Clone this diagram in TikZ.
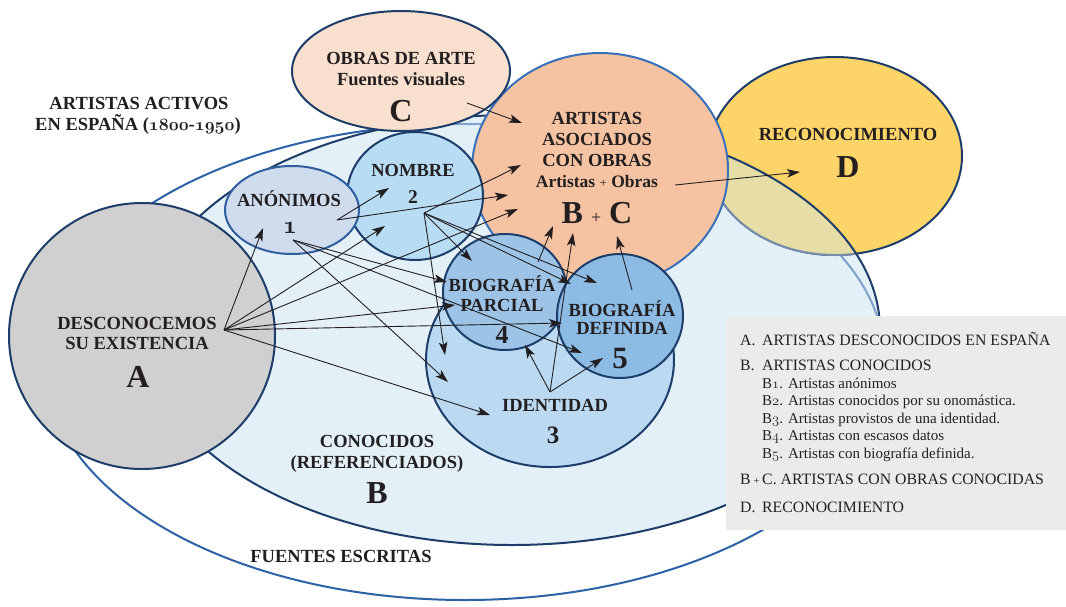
\documentclass[tikz,border=0pt]{standalone}
\usepackage{fontspec}
\setmainfont{Liberation Serif}
\usetikzlibrary{arrows.meta}

% old-style figures taken from the Computer/Latin Modern math italic fonts
\newcommand\osnb[1]{{\usefont{OML}{cmm}{b}{it}#1}}
\newcommand\osnm[1]{{\usefont{OML}{lmm}{m}{it}#1}}

\definecolor{navy}{HTML}{1D3D6B}
\definecolor{midblue}{HTML}{2E62A6}
\definecolor{bcblue}{HTML}{3A70B9}
\definecolor{oneblue}{HTML}{2F5F9F}
\definecolor{fillB}{HTML}{E3F0F8}
\definecolor{fillA}{HTML}{D0D0D0}
\definecolor{fillC}{HTML}{F9DFCD}
\definecolor{fillBC}{HTML}{F5C3A1}
\definecolor{fillD}{HTML}{FDD468}
\definecolor{fillBD}{HTML}{E6DEA6}
\definecolor{fillOne}{HTML}{CFDCEE}
\definecolor{fillTwo}{HTML}{B8DCF4}
\definecolor{fillThree}{HTML}{BBDAF2}
\definecolor{fillFour}{HTML}{9DC3E6}
\definecolor{fillFive}{HTML}{8CBBE3}
\definecolor{legendbg}{HTML}{EBECEA}
\definecolor{ink}{HTML}{231F20}

\tikzset{
  region/.style={line width=2pt},
  lbl/.style={anchor=base, inner sep=0pt, text=ink, font=\fontsize{18.5}{20}\selectfont\bfseries},
  bigletter/.style={lbl, font=\fontsize{32}{34}\selectfont\bfseries},
  leg/.style={anchor=base west, inner sep=0pt, text=ink, font=\fontsize{15.8}{17}\selectfont},
  legsub/.style={leg, font=\fontsize{15}{17}\selectfont},
  arr/.style={draw=ink, line width=0.9pt, -{Stealth[length=13pt,width=8.5pt,inset=3pt]}},
}

\begin{document}
\begin{tikzpicture}[x=1pt,y=-1pt]
\useasboundingbox (0,0) rectangle (1066,606);
\fill[white] (0,0) rectangle (1066,606);

% written sources (outer field)
\draw[region, draw=midblue, fill=white] (465,362) ellipse [x radius=420, y radius=238];
% known artists B
\fill[fillB] (512,330) ellipse [x radius=368, y radius=215];
\begin{scope}
  \clip (512,330) ellipse [x radius=368, y radius=215];
  \draw[region, draw=midblue!55!fillB] (465,362) ellipse [x radius=420, y radius=238];
\end{scope}
% recognition D
\draw[region, draw=navy, fill=fillD] (835,156) ellipse [x radius=127, y radius=99];
\begin{scope}
  \clip (512,330) ellipse [x radius=368, y radius=215];
  \fill[fillBD] (835,156) ellipse [x radius=127, y radius=99];
  \draw[region, draw=navy!55!fillB] (835,156) ellipse [x radius=127, y radius=99];
\end{scope}
\draw[region, draw=navy] (512,330) ellipse [x radius=368, y radius=215];

% identity 3
\draw[region, draw=navy, fill=fillThree] (550,360) ellipse [x radius=124, y radius=107];
% artists with works B+C
\draw[region, draw=bcblue, fill=fillBC] (600,170) ellipse [x radius=128, y radius=117];
% works of art C
\draw[region, draw=navy, fill=fillC] (401,71) ellipse [x radius=109, y radius=60];
% name 2 and anonymous 1
\draw[region, draw=navy, fill=fillTwo] (415,196) ellipse [x radius=68, y radius=64];
\draw[region, draw=oneblue, fill=fillOne] (292,210) ellipse [x radius=67, y radius=44];
% partial and full biography
\draw[region, draw=navy, fill=fillFour] (505,292) ellipse [x radius=62, y radius=58];
\draw[region, draw=navy, fill=fillFive] (620,316) ellipse [x radius=63, y radius=62];
% unknown A
\draw[region, draw=navy, fill=fillA] (142,336) circle [radius=133];

% legend panel
\fill[legendbg] (726,316) rectangle (1066,530);

% labels
\node[lbl] (tAct1) at (139,109) {ARTISTAS ACTIVOS};
\node[lbl] (tAct2) at (138,130) {EN ESPAÑA (\osnb{1800}-\osnb{1950})};
\node[lbl] (tObras) at (401,64) {OBRAS DE ARTE};
\node[lbl] (tFuentes) at (401,85) {Fuentes visuales};
\node[bigletter] (letC) at (401,121.5) {C};
\node[lbl] (tBC1) at (597,124) {ARTISTAS};
\node[lbl] (tBC2) at (597,145) {ASOCIADOS};
\node[lbl] (tBC3) at (597,166) {CON OBRAS};
\node[lbl, font=\fontsize{17.5}{19}\selectfont\bfseries] (tBC4) at (597,187)
  {Artistas {\fontsize{13}{13}\selectfont\mdseries +} Obras};
\node[bigletter] (letBC) at (597,223.5) {B {\fontsize{18}{18}\selectfont\mdseries +} C};
\node[lbl] (tRec) at (848,140) {RECONOCIMIENTO};
\node[bigletter] (letD) at (848,177.5) {D};
\node[lbl] (tAnon) at (289,206) {ANÓNIMOS};
\node[lbl, font=\fontsize{26}{26}\selectfont\bfseries] (num1) at (290,233) {\osnb{1}};
\node[lbl] (tNom) at (413,176) {NOMBRE};
\node[lbl, font=\fontsize{19.5}{20}\selectfont\bfseries] (num2) at (413,203.5) {2};
\node[lbl] (tBio4a) at (502,291) {BIOGRAFÍA};
\node[lbl] (tBio4b) at (502,311) {PARCIAL};
\node[lbl, font=\fontsize{26}{26}\selectfont\bfseries] (num4) at (502,343.5) {4};
\node[lbl] (tBio5a) at (622,316) {BIOGRAFÍA};
\node[lbl] (tBio5b) at (622,334) {DEFINIDA};
\node[lbl, font=\fontsize{31}{31}\selectfont\bfseries] (num5) at (620,368) {5};
\node[lbl] (tIdent) at (555,411) {IDENTIDAD};
\node[lbl, font=\fontsize{25}{25}\selectfont\bfseries] (num3) at (553,443.5) {3};
\node[lbl] (tDesc1) at (137,329) {DESCONOCEMOS};
\node[lbl] (tDesc2) at (137,349) {SU EXISTENCIA};
\node[bigletter] (letA) at (138,387.5) {A};
\node[lbl] (tCon1) at (377,447) {CONOCIDOS};
\node[lbl] (tCon2) at (377,468) {(REFERENCIADOS)};
\node[bigletter] (letB) at (377,503.5) {B};
\node[lbl] (tFE) at (341,562) {FUENTES ESCRITAS};

% legend text
\node[leg] (legA) at (740,345) {A.};
\node[leg] (legAt) at (762,345) {ARTISTAS DESCONOCIDOS EN ESPAÑA};
\node[leg] (legB) at (740,370) {B.};
\node[leg] (legBt) at (762,370) {ARTISTAS CONOCIDOS};
\node[legsub] (legB1) at (762,388) {B\osnm{1}. Artistas anónimos};
\node[legsub] (legB2) at (762,405.5) {B\osnm{2}. Artistas conocidos por su onomástica.};
\node[legsub] (legB3) at (762,423) {B\osnm{3}. Artistas provistos de una identidad.};
\node[legsub] (legB4) at (762,440.5) {B\osnm{4}. Artistas con escasos datos};
\node[legsub] (legB5) at (762,458) {B\osnm{5}. Artistas con biografía definida.};
\node[leg] (legBC) at (740,484) {B\,{\fontsize{11}{11}\selectfont +}\,C. ARTISTAS CON OBRAS CONOCIDAS};
\node[leg] (legD) at (740,512) {D.};
\node[leg] (legDt) at (762,512) {RECONOCIMIENTO};

% arrow hubs and targets
\coordinate (hA) at (224,330);
\coordinate (tA1) at (263,228);
\coordinate (tA2) at (385,226);
\coordinate (tA3) at (518,209);
\coordinate (tA4) at (455,305);
\coordinate (tA5) at (562,323);
\coordinate (tA6) at (490,415);
\coordinate (h1a) at (337,220);
\coordinate (t1a1) at (389,188);
\coordinate (t1a2) at (508,195);
\coordinate (h1b) at (293,240);
\coordinate (t1b1) at (447,282);
\coordinate (t1b2) at (582,353);
\coordinate (t1b3) at (448,382);
\coordinate (h2) at (424,213);
\coordinate (t21) at (521,165);
\coordinate (t22) at (472,261);
\coordinate (t23) at (445,355);
\coordinate (t24) at (597,283);
\coordinate (t25) at (571,284);
\coordinate (h4) at (538,262);
\coordinate (t41) at (553,226);
\coordinate (h3) at (550,392);
\coordinate (t31) at (525,345);
\coordinate (t32) at (603,358);
\coordinate (t33) at (573,233);
\coordinate (h5) at (632,290);
\coordinate (t51) at (617,236);
\coordinate (hC) at (467,103);
\coordinate (tCw) at (522,123);
\coordinate (hBC) at (675,185);
\coordinate (tBCd) at (800,172);

% arrows
\foreach \t in {tA1,tA2,tA3,tA4,tA5,tA6} \draw[arr] (hA) -- (\t);
\foreach \t in {t1a1,t1a2} \draw[arr] (h1a) -- (\t);
\foreach \t in {t1b1,t1b2,t1b3} \draw[arr] (h1b) -- (\t);
\foreach \t in {t21,t22,t23,t24,t25} \draw[arr] (h2) -- (\t);
\draw[arr] (h4) -- (t41);
\foreach \t in {t31,t32,t33} \draw[arr] (h3) -- (\t);
\draw[arr] (h5) -- (t51);
\draw[arr] (hC) -- (tCw);
\draw[arr] (hBC) -- (tBCd);
\end{tikzpicture}
\end{document}
